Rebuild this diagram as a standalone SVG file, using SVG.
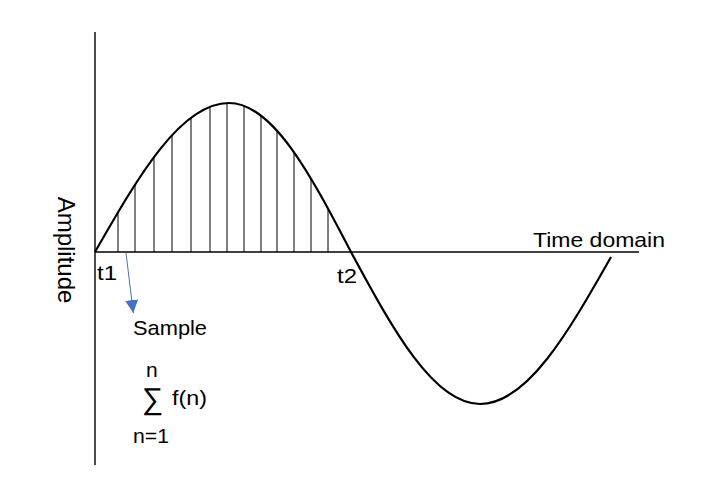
<svg xmlns="http://www.w3.org/2000/svg" width="724" height="494" viewBox="0 0 724 494">
  <defs>
    <style>
      .axis { stroke: #000; stroke-width: 1.4; fill: none; }
      .wave { stroke: #000; stroke-width: 2.2; fill: none; }
      .samp { stroke: #000; stroke-width: 1; }
      .lbl { font-family: "Liberation Sans", Arial, sans-serif; font-size: 21px; fill: #000; }
      .amp { font-family: "Liberation Sans", Arial, sans-serif; font-size: 24px; fill: #000; }
    </style>
    <marker id="arr" markerWidth="13" markerHeight="13" refX="10" refY="5" viewBox="0 0 10 10" orient="auto" markerUnits="userSpaceOnUse">
      <path d="M0,0 L10,5 L0,10 Z" fill="#4472C4"/>
    </marker>
  </defs>
  <rect width="724" height="494" fill="#fff"/>

  <g id="axes">
    <line class="axis" x1="95" y1="32" x2="95" y2="465"/>
    <line class="axis" x1="95" y1="252" x2="639" y2="252"/>
  </g>

  <g id="samples">
    <line class="samp" x1="118" y1="252" x2="118" y2="212"/>
    <line class="samp" x1="135" y1="252" x2="135" y2="185"/>
    <line class="samp" x1="154" y1="252" x2="154" y2="157"/>
    <line class="samp" x1="172" y1="252" x2="172" y2="135"/>
    <line class="samp" x1="191" y1="252" x2="191" y2="117.5"/>
    <line class="samp" x1="210" y1="252" x2="210" y2="107"/>
    <line class="samp" x1="227" y1="252" x2="227" y2="103"/>
    <line class="samp" x1="244" y1="252" x2="244" y2="106"/>
    <line class="samp" x1="261" y1="252" x2="261" y2="115.5"/>
    <line class="samp" x1="277" y1="252" x2="277" y2="130.5"/>
    <line class="samp" x1="294" y1="252" x2="294" y2="152"/>
    <line class="samp" x1="311" y1="252" x2="311" y2="179"/>
    <line class="samp" x1="328" y1="252" x2="328" y2="209.5"/>
  </g>

  <g id="wave">
    <path class="wave" d="M95,252 C138.7,175.7 180.8,103 229,103 C272.9,103 311.2,175.7 351,252 C393,329.8 433.6,404 480,404 C527.2,404 568.3,332.3 611,257"/>
  </g>

  <g id="connectors">
    <line x1="126" y1="253" x2="133.3" y2="313" stroke="#4472C4" stroke-width="1" marker-end="url(#arr)"/>
  </g>

  <g id="labels">
    <text class="amp" x="58" y="250" text-anchor="middle" transform="rotate(90 58 250)">Amplitude</text>
    <text class="lbl" x="97" y="280" textLength="20" lengthAdjust="spacingAndGlyphs">t1</text>
    <text class="lbl" x="337" y="283" textLength="20" lengthAdjust="spacingAndGlyphs">t2</text>
    <text class="lbl" x="533" y="247" textLength="132" lengthAdjust="spacingAndGlyphs">Time domain</text>
    <text class="lbl" x="133" y="335" textLength="74" lengthAdjust="spacingAndGlyphs">Sample</text>
    <text class="lbl" x="146" y="377">n</text>
    <text class="lbl" x="142" y="409" style="font-size:30px">∑</text>
    <text class="lbl" x="172" y="405" textLength="35" lengthAdjust="spacingAndGlyphs">f(n)</text>
    <text class="lbl" x="133" y="443" textLength="36" lengthAdjust="spacingAndGlyphs">n=1</text>
  </g>
</svg>
